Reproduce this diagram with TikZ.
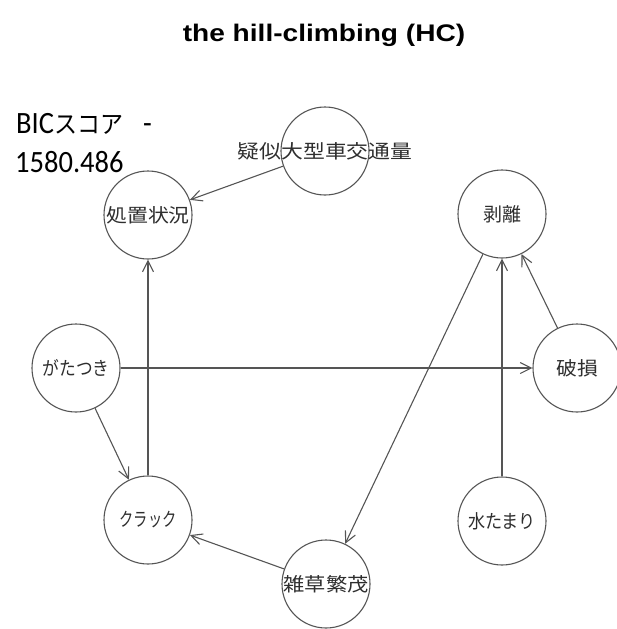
\documentclass[tikz,border=0pt]{standalone}
\usepackage{fontspec}
\usepackage{graphicx}
\setmainfont{Liberation Sans}
\newfontfamily\jp{Noto Sans CJK JP}
\newfontfamily\calfont{Carlito}
\usetikzlibrary{arrows.meta}
\definecolor{edgec}{HTML}{555555}
\definecolor{labc}{HTML}{2E2E2E}
\newcommand\jl[2]{\makebox[0pt]{\scalebox{#1}[1]{\jp #2}}}
\begin{document}
\begin{tikzpicture}[x=1pt,y=-1pt,
  var/.style={circle,draw=edgec,line width=1.1pt,minimum size=88pt,inner sep=0pt,
    text=labc,font=\fontsize{19}{19}\selectfont},
  edge/.style={draw=edgec,line width=1.1pt,-{Straight Barb[length=11pt,width=11pt]}}]
\useasboundingbox (0,0) rectangle (617,629);
\node[font=\bfseries\fontsize{24}{24}\selectfont,anchor=base] (title) at (324,41)
  {\scalebox{1.17}[1]{the hill-climbing (HC)}};
\node[anchor=base west,inner sep=0pt,font=\fontsize{31}{31}\selectfont] (bic1) at (16,133)
  {\scalebox{0.92}[1]{\calfont BIC\jp\fontsize{25}{25}\selectfont スコア}\hspace{20pt}\scalebox{0.92}[1]{\calfont -}};
\node[anchor=base west,inner sep=0pt,font=\fontsize{31}{31}\selectfont] (bic2) at (15,172)
  {\scalebox{0.92}[1]{\calfont 1580.486}};
\node[var] (giji) at (325,151) {\jl{1.15}{疑似大型車交通量}};
\node[var] (shochi) at (148,215) {\jl{1.1}{処置状況}};
\node[var] (hakuri) at (502,214) {\jl{1.0}{剥離}};
\node[var] (hason) at (577,368) {\jl{1.1}{破損}};
\node[var] (gata) at (76,368) {\jl{0.88}{がたつき}};
\node[var] (crack) at (148,520) {\jl{0.75}{クラック}};
\node[var] (mizu) at (502,521) {\jl{0.9}{水たまり}};
\node[var] (zasso) at (326,584) {\jl{1.12}{雑草繁茂}};
\draw[edge] (giji) -- (shochi);
\draw[edge] (crack) -- (shochi);
\draw[edge] (gata) -- (hason);
\draw[edge] (gata) -- (crack);
\draw[edge] (hakuri) -- (zasso);
\draw[edge] (hason) -- (hakuri);
\draw[edge] (mizu) -- (hakuri);
\draw[edge] (zasso) -- (crack);
\end{tikzpicture}
\end{document}
